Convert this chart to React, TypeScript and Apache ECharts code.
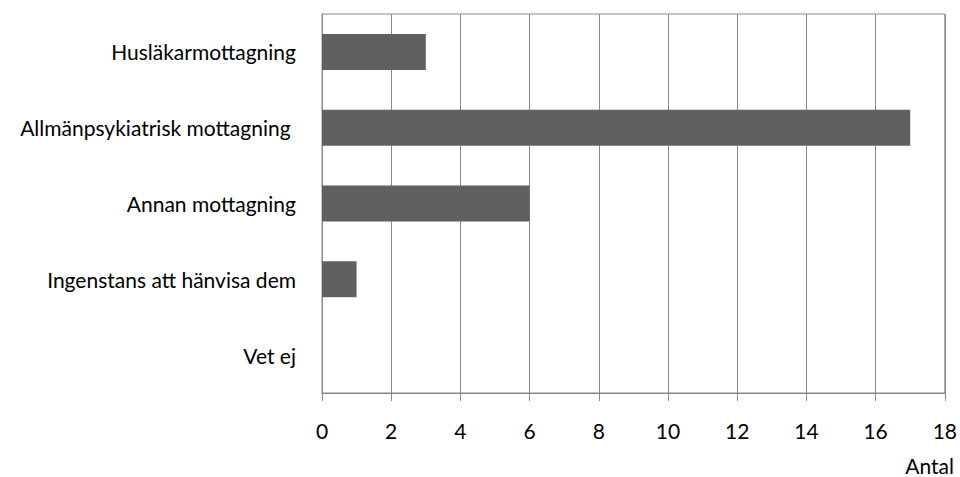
import React, { useEffect, useRef } from "react";
import * as echarts from "echarts";

const categories = [
  "Husläkarmottagning",
  "Allmänpsykiatrisk mottagning ",
  "Annan mottagning",
  "Ingenstans att hänvisa dem",
  "Vet ej",
];
const values = [3, 17, 6, 1, 0];
const xTicks = { min: 0, max: 18, interval: 2 };
const xAxisTitle = "Antal";

const FONT = "Lato, 'Open Sans', sans-serif";
const FS = 21;

export default function App() {
  const ref = useRef<HTMLDivElement>(null);
  useEffect(() => {
    if (!ref.current) return;
    const chart = echarts.init(ref.current, null, { renderer: "svg" });
    chart.setOption({
      animation: false,
      grid: {
        left: 322,
        right: 12,
        top: 14,
        bottom: 84,
        show: true,
        borderColor: "#888888",
        borderWidth: 1,
        backgroundColor: "transparent",
      },
      xAxis: {
        type: "value",
        min: xTicks.min,
        max: xTicks.max,
        interval: xTicks.interval,
        axisLine: { show: true, lineStyle: { color: "#888888", width: 1 } },
        axisTick: { show: true, length: 8, lineStyle: { color: "#888888" } },
        splitLine: { show: true, lineStyle: { color: "#888888", width: 1 } },
        axisLabel: {
          margin: 27,
          color: "#000",
          fontSize: FS,
          fontFamily: FONT,
        },
      },
      yAxis: {
        type: "category",
        inverse: true,
        data: categories,
        axisLine: { show: true, lineStyle: { color: "#888888", width: 1 } },
        axisTick: { show: false },
        axisLabel: {
          margin: 26,
          color: "#000",
          fontSize: FS,
          fontFamily: FONT,
        },
      },
      graphic: [
        {
          type: "text",
          right: 6,
          top: 455,
          style: {
            text: xAxisTitle,
            fill: "#000",
            fontSize: FS,
            fontFamily: FONT,
          },
        },
      ],
      series: [
        {
          type: "bar",
          data: values,
          barWidth: 36,
          itemStyle: { color: "#606060" },
        },
      ],
    });
    return () => chart.dispose();
  }, []);
  return <div ref={ref} style={{ width: 960, height: 477, position: "absolute", left: 0, top: 0 }} />;
}
